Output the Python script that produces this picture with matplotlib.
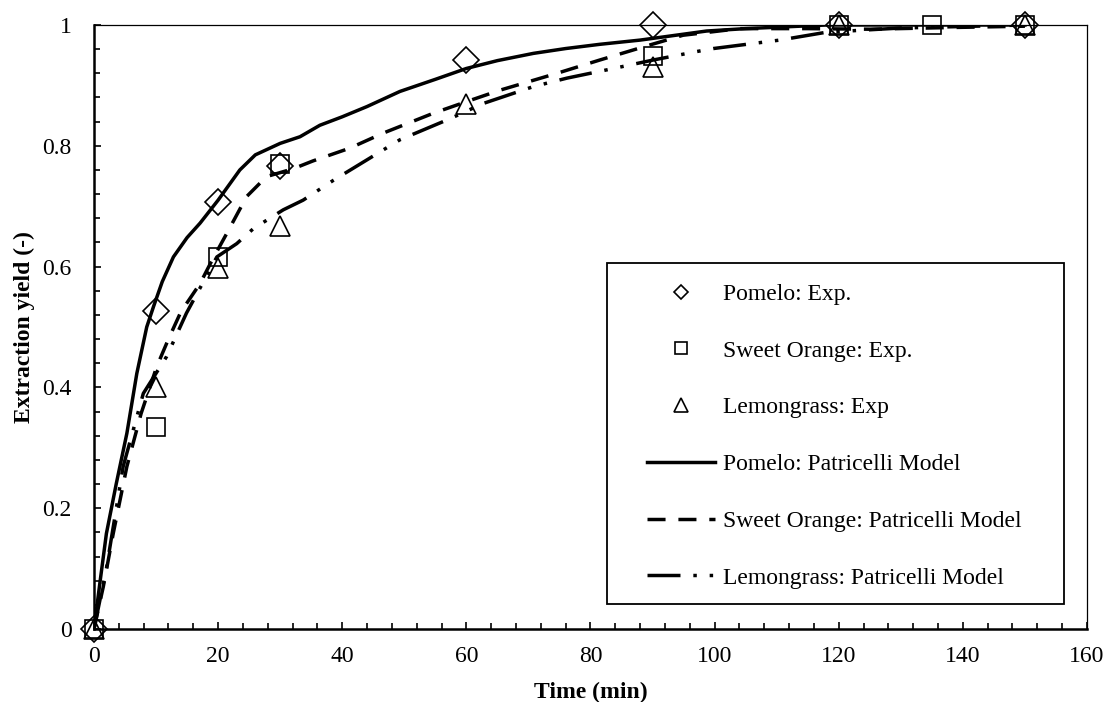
import numpy as np
import matplotlib
matplotlib.use("Agg")
import matplotlib.pyplot as plt
from matplotlib.lines import Line2D
from matplotlib.patches import Rectangle

plt.rcParams['font.family'] = ['Liberation Serif', 'DejaVu Serif']
plt.rcParams['font.size'] = 17

# experimental points
t_pomelo = [0, 10, 20, 30, 60, 90, 120, 150]
y_pomelo = [0, 0.527, 0.707, 0.767, 0.942, 1.0, 1.0, 1.0]

t_orange = [0, 10, 20, 30, 90, 120, 135, 150]
y_orange = [0, 0.334, 0.616, 0.770, 0.949, 1.0, 1.0, 1.0]

t_lemon = [0, 10, 20, 30, 60, 90, 120, 150]
y_lemon = [0, 0.400, 0.598, 0.667, 0.869, 0.930, 1.0, 1.0]

# model curves
tm_pomelo = [0, 1, 2, 3.6, 5.3, 6.9, 8.5, 9.6, 11, 12.8, 15, 17.1, 20, 23.5,
             26, 30, 33.2, 36.4, 40, 44, 49.3, 55, 60, 65, 70.8, 76, 81.5,
             88, 92.3, 98.7, 105, 109.4, 118, 135, 150]
ym_pomelo = [0, 0.08, 0.158, 0.241, 0.324, 0.423, 0.50, 0.534, 0.575, 0.616,
             0.648, 0.672, 0.710, 0.760, 0.785, 0.804, 0.815, 0.834, 0.848,
             0.865, 0.890, 0.910, 0.928, 0.941, 0.953, 0.961, 0.968, 0.975,
             0.981, 0.990, 0.994, 0.996, 1.0, 1.0, 1.0]

tm_orange = [0, 1.5, 3.1, 5.3, 7.6, 10.1, 12, 14, 17.1, 19, 21.4, 24.6, 27.8,
             32.1, 35.3, 41.2, 46.6, 54.7, 60, 65.4, 74.6, 81.5, 89.6, 94.9,
             104, 115, 125, 139, 150]
ym_orange = [0, 0.07, 0.158, 0.269, 0.357, 0.434, 0.48, 0.525, 0.572, 0.61,
             0.655, 0.716, 0.749, 0.762, 0.775, 0.796, 0.821, 0.854, 0.873,
             0.892, 0.920, 0.942, 0.967, 0.983, 0.994, 0.994, 0.993, 0.996,
             0.998]

tm_lemon = [0, 2, 4.7, 7.95, 11.7, 14.9, 19.8, 23, 25.7, 30.5, 33.7, 38.6,
            49.3, 57.4, 62.7, 70.8, 76.2, 83.7, 90.1, 97.1, 99.8, 110.5, 118,
            130, 150]
ym_lemon = [0, 0.10, 0.269, 0.39, 0.451, 0.523, 0.616, 0.638, 0.663, 0.694,
            0.710, 0.743, 0.810, 0.845, 0.870, 0.898, 0.912, 0.928, 0.942,
            0.956, 0.961, 0.975, 0.988, 0.995, 1.0]

labels = ['Pomelo: Exp.', 'Sweet Orange: Exp.', 'Lemongrass: Exp',
          'Pomelo: Patricelli Model', 'Sweet Orange: Patricelli Model',
          'Lemongrass: Patricelli Model']

fig = plt.figure(figsize=(11.07, 7.02), dpi=100)
ax = fig.add_axes([0.0849, 0.104, 0.897, 0.8604])

lw = 2.5
dash_or = (0, (5.2, 3.7))
dash_lg = (0, (9.5, 3.7, 1, 3.7, 1, 3.7))

ax.plot(tm_pomelo, ym_pomelo, color='black', lw=lw, ls='-')
ax.plot(tm_orange, ym_orange, color='black', lw=lw, ls=dash_or)
ax.plot(tm_lemon, ym_lemon, color='black', lw=lw, ls=dash_lg)

mk = dict(ls='none', mfc='none', mec='black', mew=1.2, clip_on=False, zorder=3)
ax.plot(t_pomelo, y_pomelo, marker='D', ms=13, **mk)
ax.plot(t_orange, y_orange, marker='s', ms=13, **mk)
ax.plot(t_lemon, y_lemon, marker='^', ms=15, **mk)

ax.set_xlim(0, 160)
ax.set_ylim(0, 1)
ax.set_xticks(np.arange(0, 161, 20))
ax.set_xticks(np.arange(0, 161, 4), minor=True)
ax.set_yticks(np.arange(0, 1.01, 0.2))
ax.set_yticks(np.arange(0, 1.01, 0.04), minor=True)
ax.set_yticklabels(['0', '0.2', '0.4', '0.6', '0.8', '1'])

ax.tick_params(axis='both', which='both', direction='in', width=1.2,
               top=False, right=False)
ax.tick_params(axis='both', which='major', length=5)
ax.tick_params(axis='both', which='minor', length=4)
ax.tick_params(axis='x', which='both', pad=12)
ax.tick_params(axis='y', which='both', pad=16)

ax.spines['left'].set_linewidth(1.8)
ax.spines['bottom'].set_linewidth(1.8)
ax.spines['top'].set_linewidth(0.9)
ax.spines['right'].set_linewidth(0.9)

ax.set_xlabel('Time (min)', fontweight='bold', labelpad=11)
ax.set_ylabel('Extraction yield (-)', fontweight='bold', labelpad=5)

# legend box drawn separately so the padding matches
ax.add_patch(Rectangle((0.5166, 0.0414), 0.4602, 0.5646, transform=ax.transAxes,
                       fill=True, facecolor='white', edgecolor='black',
                       lw=1.3, zorder=4))

lm = dict(ls='none', mfc='none', mec='black', mew=1.2)
handles = [
    Line2D([], [], marker='D', ms=7, **lm),
    Line2D([], [], marker='s', ms=9, **lm),
    Line2D([], [], marker='^', ms=10, **lm),
    Line2D([], [], color='black', lw=lw, ls='-'),
    Line2D([], [], color='black', lw=lw, ls=dash_or),
    Line2D([], [], color='black', lw=lw, ls=dash_lg),
]
leg = ax.legend(handles, labels, loc='upper left',
                bbox_to_anchor=(0.5569, 0.572),
                borderaxespad=0, borderpad=0, handlelength=2.9,
                handletextpad=0.34, labelspacing=1.49, frameon=False)
leg.set_zorder(5)

fig.savefig('out.png', dpi=100)
